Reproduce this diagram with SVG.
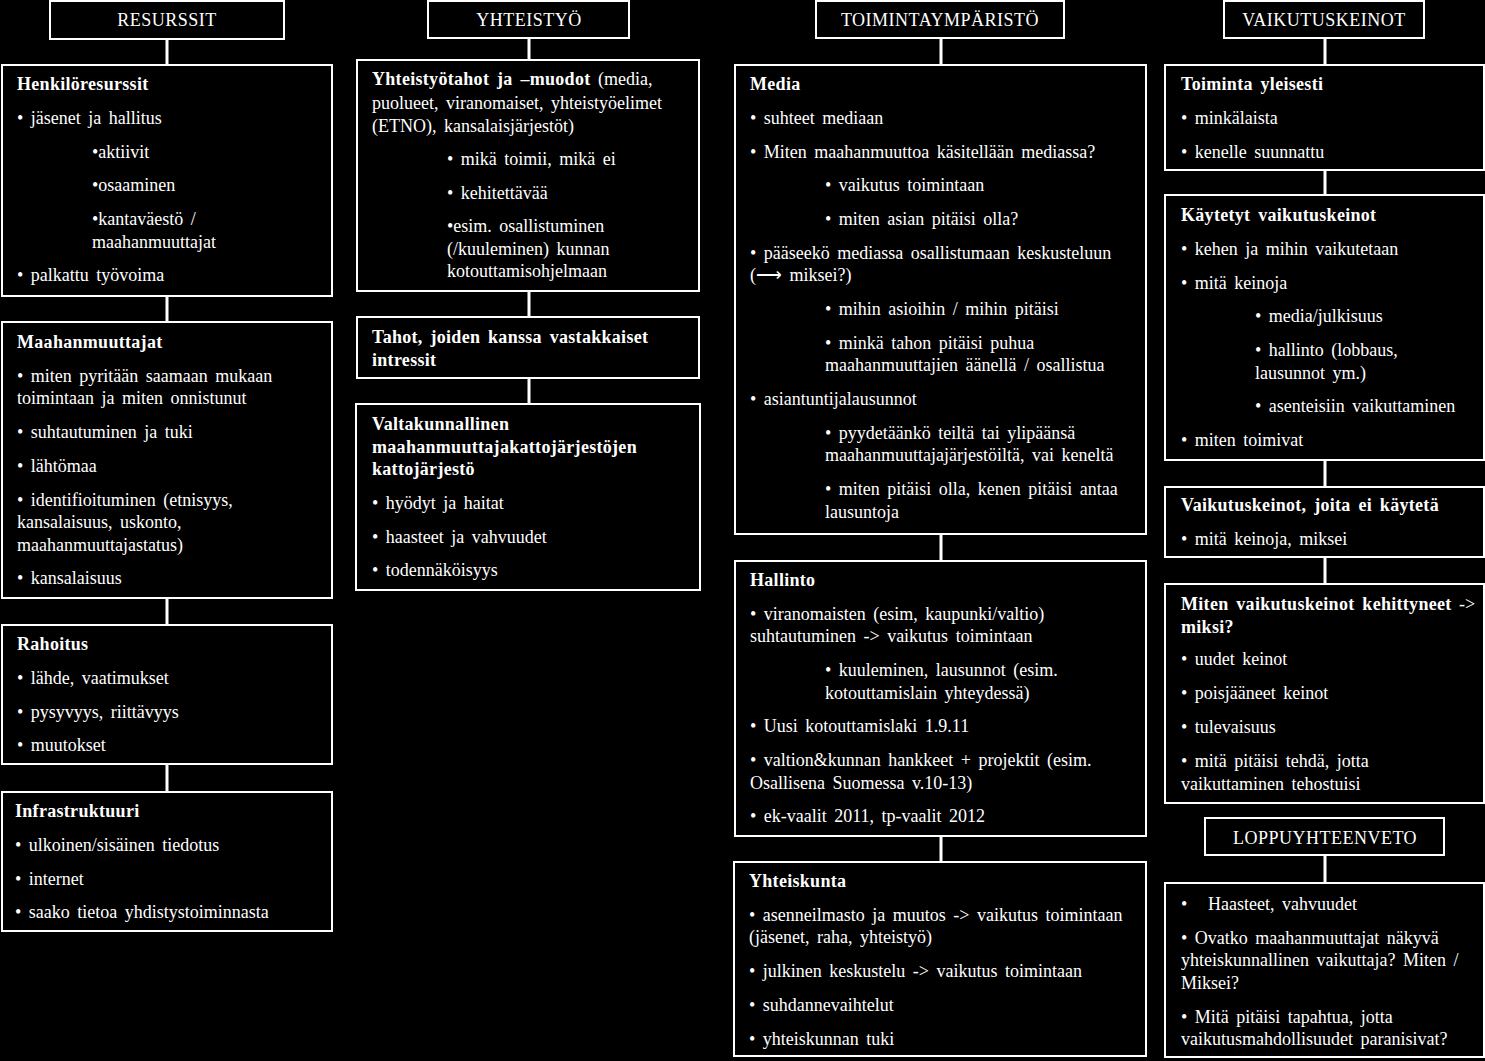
<svg xmlns="http://www.w3.org/2000/svg" width="1485" height="1061" viewBox="0 0 1485 1061">
<style>
rect.b{fill:#000;stroke:#fff;stroke-width:2}
text{font-family:"Liberation Serif","Times New Roman",serif;font-size:18px;fill:#fff;word-spacing:3px}
.h{font-weight:bold;letter-spacing:0.3px}
.c{text-anchor:middle;letter-spacing:0.5px}
#connectors line{stroke:#fff;stroke-width:3}
</style>
<rect x="0" y="0" width="1485" height="1061" fill="#000"/>
<g id="connectors">
<line x1="167" y1="39" x2="167" y2="65"/>
<line x1="167" y1="296" x2="167" y2="322"/>
<line x1="167" y1="598" x2="167" y2="625"/>
<line x1="167" y1="764" x2="167" y2="792"/>
<line x1="529" y1="38" x2="529" y2="60"/>
<line x1="529" y1="291" x2="529" y2="317"/>
<line x1="529" y1="378" x2="529" y2="404"/>
<line x1="941" y1="38" x2="941" y2="65"/>
<line x1="941" y1="534" x2="941" y2="561"/>
<line x1="941" y1="836" x2="941" y2="862"/>
<line x1="1325" y1="38" x2="1325" y2="65"/>
<line x1="1325" y1="170" x2="1325" y2="195"/>
<line x1="1325" y1="460" x2="1325" y2="486"/>
<line x1="1325" y1="557" x2="1325" y2="584"/>
<line x1="1325" y1="855" x2="1325" y2="883"/>
</g>
<g id="resurssit"><rect class="b" x="50" y="1" width="234" height="38"/><text class="c" x="167" y="26">RESURSSIT</text></g>
<g id="yhteistyo"><rect class="b" x="428" y="1" width="201" height="37"/><text class="c" x="529" y="26">YHTEISTYÖ</text></g>
<g id="toimintaymparisto"><rect class="b" x="816" y="1" width="248" height="37"/><text class="c" x="940" y="26">TOIMINTAYMPÄRISTÖ</text></g>
<g id="vaikutuskeinot"><rect class="b" x="1224" y="1" width="200" height="37"/><text class="c" x="1324" y="26">VAIKUTUSKEINOT</text></g>

<g id="henkiloresurssit"><rect class="b" x="2" y="65" width="330" height="231"/>
<text x="17" y="90" class="h">Henkilöresurssit</text>
<text x="17" y="124">• jäsenet ja hallitus</text>
<text x="92" y="158">•aktiivit</text>
<text x="92" y="191">•osaaminen</text>
<text x="92" y="225">•kantaväestö /</text>
<text x="92" y="248">maahanmuuttajat</text>
<text x="17" y="281">• palkattu työvoima</text>
</g>
<g id="maahanmuuttajat"><rect class="b" x="2" y="322" width="330" height="276"/>
<text x="17" y="348" class="h">Maahanmuuttajat</text>
<text x="17" y="382">• miten pyritään saamaan mukaan</text>
<text x="17" y="404">toimintaan ja miten onnistunut</text>
<text x="17" y="438">• suhtautuminen ja tuki</text>
<text x="17" y="472">• lähtömaa</text>
<text x="17" y="506">• identifioituminen (etnisyys,</text>
<text x="17" y="528">kansalaisuus, uskonto,</text>
<text x="17" y="551">maahanmuuttajastatus)</text>
<text x="17" y="584">• kansalaisuus</text>
</g>
<g id="rahoitus"><rect class="b" x="2" y="625" width="330" height="139"/>
<text x="17" y="650" class="h">Rahoitus</text>
<text x="17" y="684">• lähde, vaatimukset</text>
<text x="17" y="718">• pysyvyys, riittävyys</text>
<text x="17" y="751">• muutokset</text>
</g>
<g id="infrastruktuuri"><rect class="b" x="2" y="792" width="330" height="139"/>
<text x="15" y="817" class="h">Infrastruktuuri</text>
<text x="15" y="851">• ulkoinen/sisäinen tiedotus</text>
<text x="15" y="885">• internet</text>
<text x="15" y="918">• saako tietoa yhdistystoiminnasta</text>
</g>

<g id="yhteistyotahot"><rect class="b" x="357" y="60" width="342" height="231"/>
<text x="372" y="85"><tspan class="h">Yhteistyötahot ja –muodot</tspan> (media,</text>
<text x="372" y="109">puolueet, viranomaiset, yhteistyöelimet</text>
<text x="372" y="132">(ETNO), kansalaisjärjestöt)</text>
<text x="447" y="165">• mikä toimii, mikä ei</text>
<text x="447" y="199">• kehitettävää</text>
<text x="447" y="232">•esim. osallistuminen</text>
<text x="447" y="255">(/kuuleminen) kunnan</text>
<text x="447" y="277">kotouttamisohjelmaan</text>
</g>
<g id="tahot"><rect class="b" x="357" y="317" width="342" height="61"/>
<text x="372" y="343" class="h">Tahot, joiden kanssa vastakkaiset</text>
<text x="372" y="366" class="h">intressit</text>
</g>
<g id="valtakunnallinen"><rect class="b" x="356" y="404" width="344" height="186"/>
<text x="372" y="430" class="h">Valtakunnallinen</text>
<text x="372" y="453" class="h">maahanmuuttajakattojärjestöjen</text>
<text x="372" y="475" class="h">kattojärjestö</text>
<text x="372" y="509">• hyödyt ja haitat</text>
<text x="372" y="543">• haasteet ja vahvuudet</text>
<text x="372" y="576">• todennäköisyys</text>
</g>

<g id="media"><rect class="b" x="735" y="65" width="411" height="469"/>
<text x="750" y="90" class="h">Media</text>
<text x="750" y="124">• suhteet mediaan</text>
<text x="750" y="158">• Miten maahanmuuttoa käsitellään mediassa?</text>
<text x="825" y="191">• vaikutus toimintaan</text>
<text x="825" y="225">• miten asian pitäisi olla?</text>
<text x="750" y="259">• pääseekö mediassa osallistumaan keskusteluun</text>
<text x="750" y="281">(⟶ miksei?)</text>
<text x="825" y="315">• mihin asioihin / mihin pitäisi</text>
<text x="825" y="349">• minkä tahon pitäisi puhua</text>
<text x="825" y="371">maahanmuuttajien äänellä / osallistua</text>
<text x="750" y="405">• asiantuntijalausunnot</text>
<text x="825" y="439">• pyydetäänkö teiltä tai ylipäänsä</text>
<text x="825" y="461">maahanmuuttajajärjestöiltä, vai keneltä</text>
<text x="825" y="495">• miten pitäisi olla, kenen pitäisi antaa</text>
<text x="825" y="518">lausuntoja</text>
</g>
<g id="hallinto"><rect class="b" x="735" y="561" width="411" height="275"/>
<text x="750" y="586" class="h">Hallinto</text>
<text x="750" y="620">• viranomaisten (esim, kaupunki/valtio)</text>
<text x="750" y="642">suhtautuminen -&gt; vaikutus toimintaan</text>
<text x="825" y="676">• kuuleminen, lausunnot (esim.</text>
<text x="825" y="699">kotouttamislain yhteydessä)</text>
<text x="750" y="732">• Uusi kotouttamislaki 1.9.11</text>
<text x="750" y="766">• valtion&amp;kunnan hankkeet + projektit (esim.</text>
<text x="750" y="789">Osallisena Suomessa v.10-13)</text>
<text x="750" y="822">• ek-vaalit 2011, tp-vaalit 2012</text>
</g>
<g id="yhteiskunta"><rect class="b" x="734" y="862" width="412" height="194"/>
<text x="749" y="887" class="h">Yhteiskunta</text>
<text x="749" y="921">• asenneilmasto ja muutos -&gt; vaikutus toimintaan</text>
<text x="749" y="943">(jäsenet, raha, yhteistyö)</text>
<text x="749" y="977">• julkinen keskustelu -&gt; vaikutus toimintaan</text>
<text x="749" y="1011">• suhdannevaihtelut</text>
<text x="749" y="1045">• yhteiskunnan tuki</text>
</g>

<g id="toiminta-yleisesti"><rect class="b" x="1165" y="65" width="319" height="105"/>
<text x="1181" y="90" class="h">Toiminta yleisesti</text>
<text x="1181" y="124">• minkälaista</text>
<text x="1181" y="158">• kenelle suunnattu</text>
</g>
<g id="kaytetyt"><rect class="b" x="1165" y="195" width="319" height="265"/>
<text x="1181" y="221" class="h">Käytetyt vaikutuskeinot</text>
<text x="1181" y="255">• kehen ja mihin vaikutetaan</text>
<text x="1181" y="289">• mitä keinoja</text>
<text x="1255" y="322">• media/julkisuus</text>
<text x="1255" y="356">• hallinto (lobbaus,</text>
<text x="1255" y="379">lausunnot ym.)</text>
<text x="1255" y="412">• asenteisiin vaikuttaminen</text>
<text x="1181" y="446">• miten toimivat</text>
</g>
<g id="ei-kaytetta"><rect class="b" x="1165" y="487" width="319" height="70"/>
<text x="1181" y="511" class="h">Vaikutuskeinot, joita ei käytetä</text>
<text x="1181" y="545">• mitä keinoja, miksei</text>
</g>
<g id="kehittyneet"><rect class="b" x="1165" y="584" width="319" height="219"/>
<text x="1181" y="610"><tspan class="h">Miten vaikutuskeinot kehittyneet</tspan> -&gt;</text>
<text x="1181" y="633" class="h">miksi?</text>
<text x="1181" y="665">• uudet keinot</text>
<text x="1181" y="699">• poisjääneet keinot</text>
<text x="1181" y="733">• tulevaisuus</text>
<text x="1181" y="767">• mitä pitäisi tehdä, jotta</text>
<text x="1181" y="790">vaikuttaminen tehostuisi</text>
</g>
<g id="loppuyhteenveto"><rect class="b" x="1205" y="818" width="239" height="37"/><text class="c" x="1325" y="844">LOPPUYHTEENVETO</text></g>
<g id="yhteenveto"><rect class="b" x="1165" y="883" width="319" height="174"/>
<text x="1181" y="910">•</text><text x="1208" y="910">Haasteet, vahvuudet</text>
<text x="1181" y="944">• Ovatko maahanmuuttajat näkyvä</text>
<text x="1181" y="966">yhteiskunnallinen vaikuttaja? Miten /</text>
<text x="1181" y="989">Miksei?</text>
<text x="1181" y="1023">• Mitä pitäisi tapahtua, jotta</text>
<text x="1181" y="1045">vaikutusmahdollisuudet paranisivat?</text>
</g>
</svg>
